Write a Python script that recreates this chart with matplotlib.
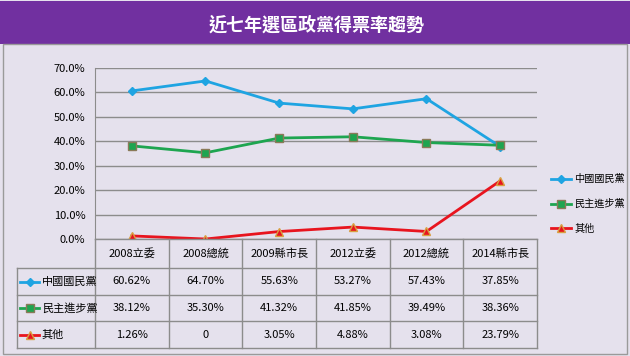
import matplotlib
matplotlib.use("Agg")
import matplotlib.pyplot as plt
from matplotlib.lines import Line2D
from matplotlib.patches import Rectangle

plt.rcParams['font.family'] = ['Noto Sans CJK TC', 'DejaVu Sans']

TITLE = "近七年選區政黨得票率趨勢"
elections = ["2008立委", "2008總統", "2009縣市長", "2012立委", "2012總統", "2014縣市長"]
parties = ["中國國民黨", "民主進步黨", "其他"]
kmt = [60.62, 64.70, 55.63, 53.27, 57.43, 37.85]
dpp = [38.12, 35.30, 41.32, 41.85, 39.49, 38.36]
other = [1.26, 0, 3.05, 4.88, 3.08, 23.79]
series = [kmt, dpp, other]

styles = [
    dict(color="#1FA4E2", marker="D", markersize=4.2, mfc="#1FA4E2", mec="#1FA4E2"),
    dict(color="#1EA550", marker="s", markersize=5.5, mfc="#1EA550", mec="#8A7A58"),
    dict(color="#E8141E", marker="^", markersize=5.5, mfc="#E8141E", mec="#D8A040"),
]

W, H = 630, 356
BG = "#E5E1ED"
PURPLE = "#7130A0"
GRID = "#8C8C8C"

fig = plt.figure(figsize=(W / 100, H / 100), dpi=100)
fig.patch.set_facecolor(BG)


def fx(x):
    return x / W


def fy(y):
    return 1 - y / H


# title bar and frame
fig.add_artist(Rectangle((0, fy(44)), 1, fy(1) - fy(44), transform=fig.transFigure,
                         facecolor=PURPLE, edgecolor="none"))
fig.text(fx(317), fy(25), TITLE, color="white", fontsize=13, fontweight="bold",
         ha="center", va="center")
fig.add_artist(Rectangle((fx(3), fy(354)), fx(624), fy(44) - fy(354), transform=fig.transFigure,
                         facecolor="none", edgecolor="#9A9A9A", lw=1))

# plot area
left, right, top, bottom = 95, 537, 68, 239
ax = fig.add_axes([fx(left), fy(bottom), fx(right - left), fy(top) - fy(bottom)])
ax.set_facecolor("none")
x = list(range(len(elections)))
for vals, name, st in zip(series, parties, styles):
    ax.plot(x, [v / 100 for v in vals], lw=2.0, label=name, **st)
ax.set_xlim(-0.5, len(elections) - 0.5)
ax.set_ylim(0, 0.70)
ax.set_yticks([i / 10 for i in range(8)])
ax.set_yticklabels([f"{i * 10:.1f}%" for i in range(8)], fontsize=8)
ax.tick_params(axis="y", length=0, pad=7)
ax.set_xticks([])
ax.grid(axis="y", color=GRID, lw=1)
ax.set_axisbelow(True)
for s in ["top", "right", "bottom"]:
    ax.spines[s].set_visible(False)
ax.spines["left"].set_color(GRID)

leg = ax.legend(loc="center left", bbox_to_anchor=(fx(551), fy(204)),
                bbox_transform=fig.transFigure,
                frameon=False, fontsize=7.3, handlelength=2.0, labelspacing=1.45,
                handletextpad=0.3, borderpad=0, borderaxespad=0)

# table
col_w = (right - left) / len(elections)
rows_y = [239, 268, 295, 321, 348]
lab_left = 17


def hline(x0, x1, y):
    fig.add_artist(Line2D([fx(x0), fx(x1)], [fy(y), fy(y)], color=GRID, lw=1))


def vline(x0, y0, y1):
    fig.add_artist(Line2D([fx(x0), fx(x0)], [fy(y0), fy(y1)], color=GRID, lw=1))


hline(left, right, rows_y[0])
for y in rows_y[1:]:
    hline(lab_left, right, y)
vline(lab_left, rows_y[1], rows_y[-1])
for i in range(len(elections) + 1):
    vline(left + i * col_w, rows_y[0], rows_y[-1])

for i, e in enumerate(elections):
    cx = left + (i + 0.5) * col_w
    fig.text(fx(cx), fy((rows_y[0] + rows_y[1]) / 2), e, fontsize=8, ha="center", va="center")

for r, (vals, name, st) in enumerate(zip(series, parties, styles)):
    cy = (rows_y[r + 1] + rows_y[r + 2]) / 2
    fig.add_artist(Line2D([fx(20), fx(39)], [fy(cy), fy(cy)], lw=2.0, color=st["color"]))
    fig.add_artist(Line2D([fx(29.5)], [fy(cy)], lw=0, marker=st["marker"],
                          markersize=st["markersize"], mfc=st["mfc"], mec=st["mec"]))
    fig.text(fx(42), fy(cy), name, fontsize=8, ha="left", va="center")
    for i, v in enumerate(vals):
        cx = left + (i + 0.5) * col_w
        txt = "0" if v == 0 else f"{v:.2f}%"
        fig.text(fx(cx), fy(cy), txt, fontsize=8, ha="center", va="center")

fig.savefig("out.png", dpi=100, facecolor=BG)
